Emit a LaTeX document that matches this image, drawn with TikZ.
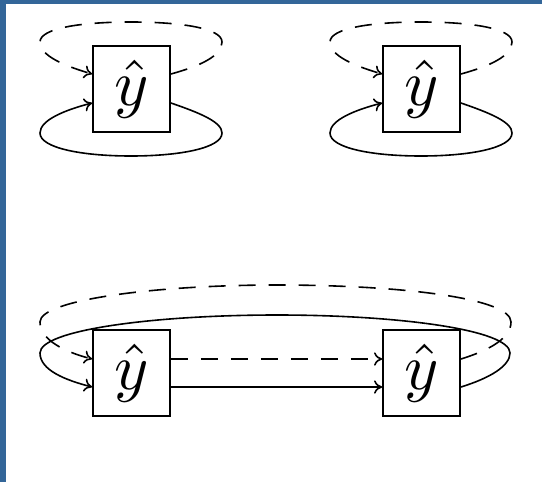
\documentclass[tikz,border=0pt]{standalone}
\usepackage{graphicx}
\usetikzlibrary{arrows.meta,calc}
\definecolor{frameblue}{RGB}{51,102,153}
\begin{document}
\begin{tikzpicture}[x=0.75pt,y=-0.75pt,
  yhat/.style={draw, line width=1.4pt, fill=white, minimum width=57.75pt, minimum height=64.5pt, inner sep=0pt},
  conn/.style={line width=1.2pt, -{To[length=6pt,width=10pt]}},
  dsh/.style={dash pattern=on 12.75pt off 9.75pt}]
\useasboundingbox (0,0) rectangle (542,482);
\fill[frameblue] (0,0) rectangle (6,482);
\fill[frameblue] (0,0) rectangle (542,4);
% nodes
\node[yhat] (a) at (131.5,89) {\scalebox{4.9}{$\hat{y}$}};
\node[yhat] (b) at (421.5,89) {\scalebox{4.9}{$\hat{y}$}};
\node[yhat] (c) at (131.5,373) {\scalebox{4.9}{$\hat{y}$}};
\node[yhat] (d) at (421.5,373) {\scalebox{4.9}{$\hat{y}$}};
% top-left loops
\draw[conn,dsh] ($(a.east)+(0,-15)$) .. controls (200,66) and (222,56) .. (222,42)
  .. controls (222,28) and (180,22) .. (131,22)
  .. controls (82,22) and (40,28) .. (40,42)
  .. controls (40,56) and (65,66) .. ($(a.west)+(0,-15)$);
\draw[conn] ($(a.east)+(0,14)$) .. controls (200,113) and (222,122) .. (222,133)
  .. controls (222,148) and (180,156) .. (131,156)
  .. controls (82,156) and (40,148) .. (40,133)
  .. controls (40,120) and (65,110) .. ($(a.west)+(0,14)$);
% top-right loops
\draw[conn,dsh] ($(b.east)+(0,-15)$) .. controls (490,66) and (512,56) .. (512,42)
  .. controls (512,28) and (470,22) .. (421,22)
  .. controls (372,22) and (330,28) .. (330,42)
  .. controls (330,56) and (355,66) .. ($(b.west)+(0,-15)$);
\draw[conn] ($(b.east)+(0,14)$) .. controls (490,113) and (512,122) .. (512,133)
  .. controls (512,148) and (470,156) .. (421,156)
  .. controls (372,156) and (330,148) .. (330,133)
  .. controls (330,120) and (355,110) .. ($(b.west)+(0,14)$);
% bottom straight connectors
\draw[conn,dsh] ($(c.east)+(0,-14)$) -- ($(d.west)+(0,-14)$);
\draw[conn] ($(c.east)+(0,14)$) -- ($(d.west)+(0,14)$);
% bottom loops
\draw[conn,dsh] ($(d.east)+(0,-14)$) .. controls (490,350) and (511,338) .. (511,322)
  .. controls (511,298) and (400,285) .. (277,285)
  .. controls (154,285) and (40,300) .. (40,322)
  .. controls (40,340) and (65,352) .. ($(c.west)+(0,-14)$);
\draw[conn] ($(d.east)+(0,14)$) .. controls (490,378) and (510,366) .. (510,353)
  .. controls (510,330) and (400,315) .. (277,315)
  .. controls (154,315) and (40,330) .. (40,353)
  .. controls (40,370) and (65,380) .. ($(c.west)+(0,14)$);
\end{tikzpicture}
\end{document}
